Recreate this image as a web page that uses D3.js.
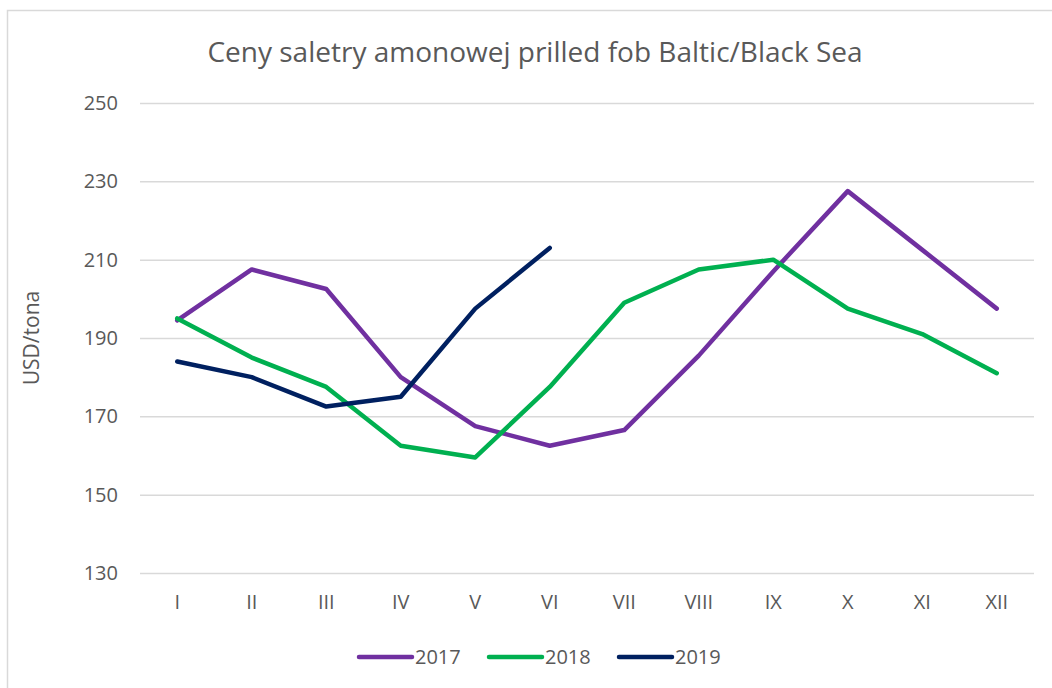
<!DOCTYPE html>
<html>
<head>
<meta charset="utf-8">
<script src="https://cdn.jsdelivr.net/npm/d3@7"></script>
<style>
    body { margin: 0; background: #fff; }
    text { font-family: "Open Sans", sans-serif; fill: #595959; }
</style>
</head>
<body>
<svg id="chart"></svg>
<script>
const months = ["I", "II", "III", "IV", "V", "VI", "VII", "VIII", "IX", "X", "XI", "XII"];
const years = ["2017", "2018", "2019"];
const prices2017 = [194.5, 207.5, 202.5, 180, 167.5, 162.5, 166.5, 185.5, 207, 227.5, 212.5, 197.5];
const prices2018 = [195, 185, 177.5, 162.5, 159.5, 177.5, 199, 207.5, 210, 197.5, 191, 181];
const prices2019 = [184, 180, 172.5, 175, 197.5, 213];
const yTicks = [130, 150, 170, 190, 210, 230, 250];
const colors = ["#7030A0", "#00B050", "#002060"];

const width = 1052;
const height = 688;
const margin = {top: 103, right: 18, bottom: 115, left: 140};

let svg = d3.select("#chart")
    .attr("width", width)
    .attr("height", height);

// outer chart border
svg.append("rect")
    .attr("x", 7.5)
    .attr("y", 10.5)
    .attr("width", width + 20)
    .attr("height", height + 20)
    .attr("fill", "none")
    .attr("stroke", "#D9D9D9")
    .attr("stroke-width", 1.5);

let x = d3.scaleBand()
    .domain(months)
    .range([margin.left, width - margin.right]);
let y = d3.scaleLinear()
    .domain([130, 250])
    .range([height - margin.bottom, margin.top]);

svg.append("text")
    .attr("x", 535)
    .attr("y", 62)
    .attr("text-anchor", "middle")
    .style("font-size", "28px")
    .text("Ceny saletry amonowej prilled fob Baltic/Black Sea");

// gridlines + y labels
let yAxis = d3.axisLeft(y)
    .tickValues(yTicks)
    .tickSize(-(width - margin.left - margin.right))
    .tickPadding(22);
svg.append("g")
    .attr("transform", "translate(" + margin.left + ",0)")
    .call(yAxis)
    .call(g => g.select(".domain").remove())
    .call(g => g.selectAll("line").attr("stroke", "#D9D9D9").attr("stroke-width", 1.5))
    .call(g => g.selectAll("text").attr("fill", "#595959").style("font-size", "20px").style("font-family", "Open Sans, sans-serif"));

let xAxis = d3.axisBottom(x).tickSize(0).tickPadding(22);
svg.append("g")
    .attr("transform", "translate(0," + (height - margin.bottom) + ")")
    .call(xAxis)
    .call(g => g.select(".domain").remove())
    .call(g => g.selectAll("text").attr("fill", "#595959").style("font-size", "20px").style("font-family", "Open Sans, sans-serif"));

svg.append("text")
    .attr("transform", "translate(39," + y(190) + ") rotate(-90)")
    .attr("text-anchor", "middle")
    .style("font-size", "21px")
    .text("USD/tona");

let series = [prices2017, prices2018, prices2019];
let line = d3.line()
    .x((d, i) => x(months[i]) + x.bandwidth() / 2)
    .y(d => y(d));

svg.append("g")
    .selectAll("path")
    .data(series)
    .join("path")
    .attr("d", line)
    .attr("fill", "none")
    .attr("stroke", (d, i) => colors[i])
    .attr("stroke-width", 4.5)
    .attr("stroke-linejoin", "round")
    .attr("stroke-linecap", "round");

// legend
let legendX = [359, 489, 619];
let legend = svg.append("g")
    .selectAll("g")
    .data(years)
    .join("g")
    .attr("transform", (d, i) => "translate(" + legendX[i] + ",657)");
legend.append("line")
    .attr("x1", 0)
    .attr("x2", 53)
    .attr("stroke", (d, i) => colors[i])
    .attr("stroke-width", 4.5)
    .attr("stroke-linecap", "round");
legend.append("text")
    .attr("x", 56)
    .attr("dy", "0.35em")
    .style("font-size", "20px")
    .text(d => d);
</script>
</body>
</html>
